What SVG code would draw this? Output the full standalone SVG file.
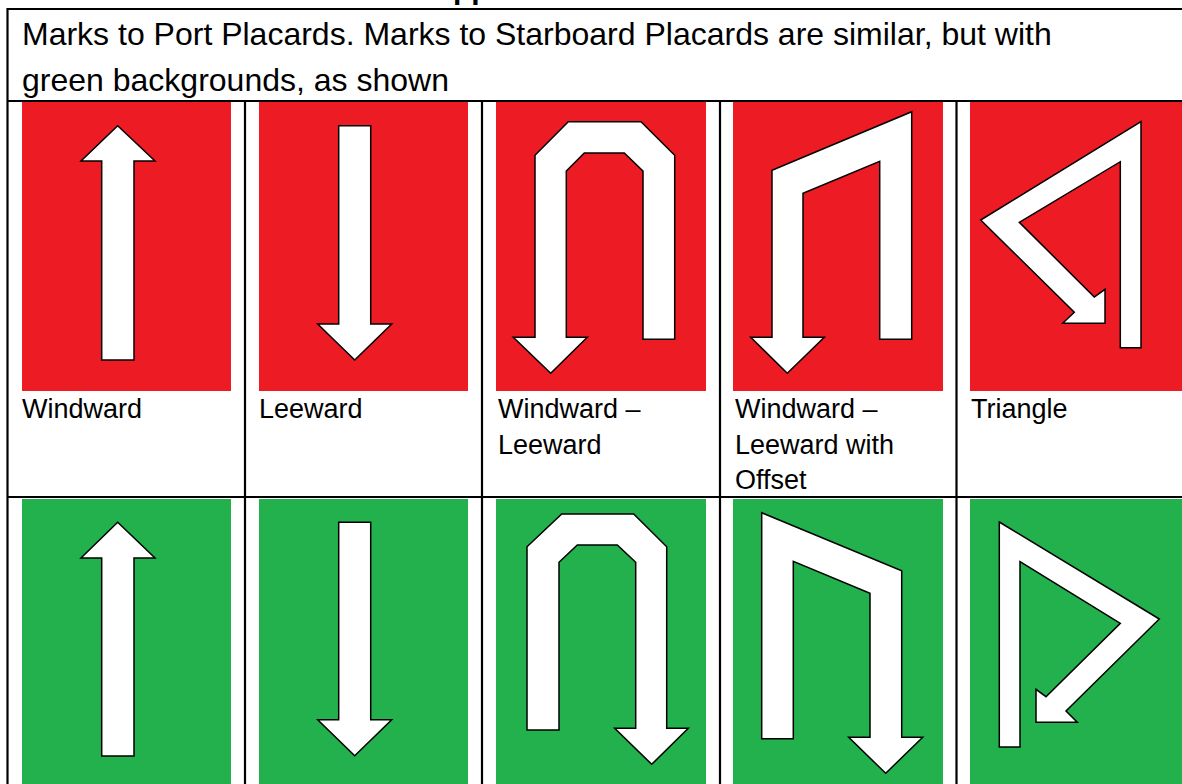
<svg xmlns="http://www.w3.org/2000/svg" width="1182" height="784" viewBox="0 0 1182 784">
  <style>
    .txt { font-family: "Liberation Sans", Arial, sans-serif; fill: #000; }
    .hdr { font-size: 32px; }
    .lbl { font-size: 27px; }
    .red { fill: #ED1C24; }
    .grn { fill: #22B14C; }
    .arw { fill: #FFFFFF; stroke: #000; stroke-width: 1.5; stroke-linejoin: miter; }
    .grid { stroke: #000; stroke-width: 2.2; fill: none; }
  </style>
  <rect x="0" y="0" width="1182" height="784" fill="#FFFFFF"/>

  <text class="txt" x="453" y="-1" font-size="30" font-weight="bold">pp</text>

  <g id="table-lines">
    <line class="grid" x1="7" y1="9" x2="1182" y2="9"/>
    <line class="grid" x1="7" y1="101" x2="1182" y2="101"/>
    <line class="grid" x1="7" y1="497" x2="1182" y2="497"/>
    <line class="grid" x1="7.5" y1="8" x2="7.5" y2="784"/>
    <line class="grid" x1="245" y1="101" x2="245" y2="784"/>
    <line class="grid" x1="482" y1="101" x2="482" y2="784"/>
    <line class="grid" x1="720" y1="101" x2="720" y2="784"/>
    <line class="grid" x1="956.5" y1="101" x2="956.5" y2="784"/>
  </g>

  <g id="header">
    <text class="txt hdr" x="22" y="45">Marks to Port Placards. Marks to Starboard Placards are similar, but with</text>
    <text class="txt hdr" x="22" y="91">green backgrounds, as shown</text>
  </g>

  <g id="port-windward">
    <rect class="red" x="22" y="102" width="209" height="289"/>
    <polygon class="arw" points="117.7,125.7 155,161 134,161 134,360 101.7,360 101.7,161 81,161"/>
    <text class="txt lbl" x="22" y="418">Windward</text>
  </g>

  <g id="port-leeward">
    <rect class="red" x="259" y="102" width="209" height="289"/>
    <polygon class="arw" points="338.7,125.7 370.7,125.7 370.7,324 391.7,324 354.7,360 317.7,324 338.7,324"/>
    <text class="txt lbl" x="259" y="418">Leeward</text>
  </g>

  <g id="port-windward-leeward">
    <rect class="red" x="496" y="102" width="210" height="289"/>
    <polygon class="arw" points="674.7,339.3 674.7,155.3 641,121.7 568.3,121.7 535,155.3 535,337.3 513.3,337.3 550.7,373.3 587.3,337.3 566.3,337.3 566.3,171 584.3,153 624.3,153 643,171 643,339.3"/>
    <text class="txt lbl" x="498" y="418">Windward –</text>
    <text class="txt lbl" x="498" y="453.5">Leeward</text>
  </g>

  <g id="port-windward-leeward-offset">
    <rect class="red" x="733" y="102" width="210" height="289"/>
    <polygon class="arw" points="911.7,339.3 911.7,111.7 772,170.3 772,337.3 750.7,337.3 787.3,373.3 824.3,337.3 803,337.3 803,193.3 879.7,161.3 879.7,339.3"/>
    <text class="txt lbl" x="735" y="418">Windward –</text>
    <text class="txt lbl" x="735" y="453.5">Leeward with</text>
    <text class="txt lbl" x="735" y="489">Offset</text>
  </g>

  <g id="port-triangle">
    <rect class="red" x="970" y="102" width="212" height="289"/>
    <polygon class="arw" points="1141,121.7 1141,347.7 1120.3,347.7 1120.3,161.7 1019.3,222.3 1094.3,297 1105,289.3 1105,323.3 1062.7,323.3 1074.3,312.3 980.7,220"/>
    <text class="txt lbl" x="971" y="418">Triangle</text>
  </g>

  <g id="stbd-windward">
    <rect class="grn" x="22" y="499" width="209" height="285"/>
    <polygon class="arw" points="117.7,522.3 155,558 134,558 134,756 101.7,756 101.7,558 81,558"/>
  </g>

  <g id="stbd-leeward">
    <rect class="grn" x="259" y="499" width="209" height="285"/>
    <polygon class="arw" points="338.7,522.3 370.7,522.3 370.7,719.7 391.7,719.7 354.7,755.7 317.7,719.7 338.7,719.7"/>
  </g>

  <g id="stbd-windward-leeward">
    <rect class="grn" x="496" y="499" width="210" height="285"/>
    <polygon class="arw" points="527,730 527,546.7 561.7,514 633.7,514 666.7,546.7 666.7,728.3 688.3,728.3 651.7,764.3 614.7,728.3 635.7,728.3 635.7,562.3 617.3,545 577.3,545 559,562.3 559,730"/>
  </g>

  <g id="stbd-windward-leeward-offset">
    <rect class="grn" x="733" y="499" width="210" height="285"/>
    <polygon class="arw" points="761.7,738.7 761.7,512.7 901.7,570.7 901.7,737.3 922.7,737.3 885.7,773.3 848.7,737.3 870,737.3 870,593.3 793.3,561.3 793.3,738.7"/>
  </g>

  <g id="stbd-triangle">
    <rect class="grn" x="970" y="499" width="212" height="285"/>
    <polygon class="arw" points="999.3,522 1159.3,619 1066,711 1077.3,722.3 1036,722.3 1036,689.3 1046,696.7 1120.3,623.3 1020,561.7 1020,747 999.3,747"/>
  </g>
</svg>
